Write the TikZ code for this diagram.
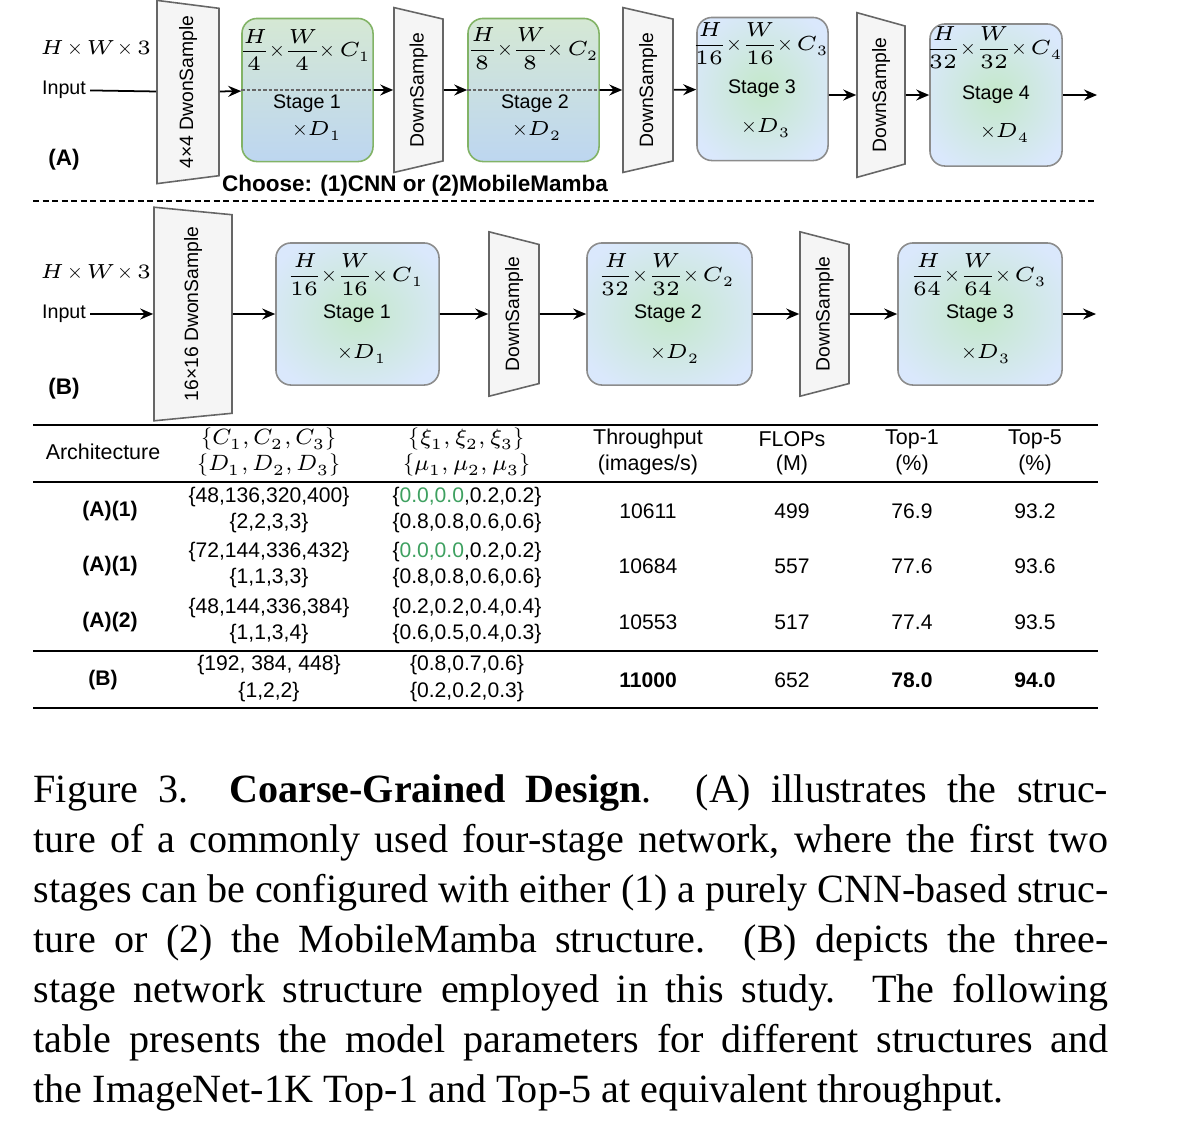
\documentclass[tikz,border=0pt]{standalone}
\usepackage{amsmath}
\usepackage{fontspec}
\usepackage{unicode-math}
\setmathfont{Latin Modern Math}
\setsansfont{Liberation Sans}
\newfontfamily\capfont{Liberation Serif}
\usetikzlibrary{arrows.meta, shapes.geometric}

\definecolor{dsfill}{RGB}{245,245,245}
\definecolor{dsline}{RGB}{102,102,102}
\definecolor{cnnline}{RGB}{130,179,102}
\definecolor{cnntop}{RGB}{213,232,212}
\definecolor{cnnbot}{RGB}{189,214,240}
\definecolor{glowin}{RGB}{196,232,202}
\definecolor{glowout}{RGB}{218,232,252}
\definecolor{stline}{RGB}{140,140,140}
\definecolor{zgreen}{RGB}{62,160,96}

\pgfdeclareradialshading{stageglow}{\pgfpoint{0bp}{0bp}}{color(0bp)=(glowin); color(30bp)=(glowout); color(50bp)=(glowout)}

\newcommand{\dgsize}{\fontsize{5.6}{6.7}\selectfont}
\newcommand{\dgmath}{\fontsize{5.8}{7}\selectfont\setlength{\nulldelimiterspace}{0pt}\medmuskip=3mu\relax}
\newcommand{\tbsize}{\fontsize{6}{7.2}\selectfont}

\begin{document}
\begin{tikzpicture}[
    x=0.01cm, y=-0.01cm,
    lbl/.style={font=\sffamily\dgsize, inner sep=1pt},
    lblm/.style={font=\dgmath, inner sep=1pt},
    tag/.style={font=\sffamily\bfseries\fontsize{6.4}{7.6}\selectfont, inner sep=1pt},
    dsample/.style={trapezium, trapezium stretches=true, shape border rotate=180, rotate=90,
        draw=dsline, fill=dsfill, line width=0.45pt, inner sep=0.5pt,
        font=\sffamily\fontsize{5.5}{6.6}\selectfont},
    cnnstage/.style={rectangle, rounded corners=0.15cm, draw=cnnline, line width=0.45pt,
        top color=cnntop, bottom color=cnnbot},
    stage/.style={rectangle, rounded corners=0.15cm, draw=stline, line width=0.45pt,
        shade, shading=stageglow},
    arr/.style={-{Stealth[length=1.3mm, width=1.1mm, inset=0.45mm]}, line width=0.5pt},
    midline/.style={dsline, dash pattern=on 0.035cm off 0.02cm, line width=0.4pt},
    sepline/.style={dash pattern=on 0.06cm off 0.035cm, line width=0.5pt},
    tabrule/.style={line width=0.6pt},
    th/.style={font=\sffamily\fontsize{6.1}{7.3}\selectfont, inner sep=1pt},
    thm/.style={font=\fontsize{6.3}{7.6}\selectfont, inner sep=1pt},
    td/.style={font=\sffamily\tbsize, inner sep=1pt},
    tdb/.style={font=\sffamily\bfseries\tbsize, inner sep=1pt},
]
\useasboundingbox (0,0) rectangle (1198,1130);

% === (A): four-stage network ===
\node[lblm] (dimA) at (96,48) {$H\times W\times 3$};
\node[lbl] (inA) at (64,90) {Input};
\node[tag] (tagA) at (64,160) {(A)};
\node[dsample, minimum width=1.84cm, minimum height=0.62cm, trapezium angle=71] (ds1) at (188,92) {4×4 DwonSample};
% stage 1
\node[cnnstage, minimum width=1.31cm, minimum height=1.43cm] (s1) at (307.5,90) {};
\draw[midline] (s1.west) -- (s1.east);
\node[lblm] (s1dim) at (307,50) {$\dfrac{H}{4}\times\dfrac{W}{4}\times C_1$};
\node[lbl] (s1name) at (307,104) {Stage 1};
\node[lblm] (s1rep) at (317,131) {$\times D_1$};
\node[dsample, minimum width=1.65cm, minimum height=0.49cm, trapezium angle=66] (ds2) at (418.5,90) {DownSample};
% stage 2
\node[cnnstage, minimum width=1.31cm, minimum height=1.43cm] (s2) at (533.5,90) {};
\draw[midline] (s2.west) -- (s2.east);
\node[lblm] (s2dim) at (535,49) {$\dfrac{H}{8}\times\dfrac{W}{8}\times C_2$};
\node[lbl] (s2name) at (535,104) {Stage 2};
\node[lblm] (s2rep) at (537,131) {$\times D_2$};
\node[dsample, minimum width=1.65cm, minimum height=0.50cm, trapezium angle=66] (ds3) at (648,90) {DownSample};
% stage 3
\node[stage, minimum width=1.31cm, minimum height=1.43cm] (s3) at (762.5,89) {};
\node[lblm] (s3dim) at (762,44) {$\dfrac{H}{16}\times\dfrac{W}{16}\times C_3$};
\node[lbl] (s3name) at (762,89) {Stage 3};
\node[lblm] (s3rep) at (766,128) {$\times D_3$};
\node[dsample, minimum width=1.65cm, minimum height=0.48cm, trapezium angle=62] (ds4) at (881,95) {DownSample};
% stage 4
\node[stage, minimum width=1.32cm, minimum height=1.42cm] (s4) at (996,95) {};
\node[lblm] (s4dim) at (996,48) {$\dfrac{H}{32}\times\dfrac{W}{32}\times C_4$};
\node[lbl] (s4name) at (996,95) {Stage 4};
\node[lblm] (s4rep) at (1005,133) {$\times D_4$};
\coordinate (outA) at (1097,95);
% connectors
\draw[line width=0.5pt] (inA) -- (ds1);
\draw[arr] (ds1) -- (s1);
\draw[arr] (s1) -- (ds2);
\draw[arr] (ds2) -- (s2);
\draw[arr] (s2) -- (ds3);
\draw[arr] (ds3) -- (s3);
\draw[arr] (s3.east |- ds4) -- (ds4);
\draw[arr] (ds4) -- (s4);
\draw[arr] (s4) -- (outA);
\node[tag] (choose) at (415,186) {Choose: (1)CNN or (2)MobileMamba};

% separator
\coordinate (sepL) at (33,201);
\coordinate (sepR) at (1097,201);
\draw[sepline] (sepL) -- (sepR);

% === (B): three-stage network ===
\node[lblm] (dimB) at (96,272) {$H\times W\times 3$};
\node[lbl] (inB) at (64,314) {Input};
\node[tag] (tagB) at (64,389) {(B)};
\node[dsample, minimum width=2.14cm, minimum height=0.78cm, trapezium angle=72.6] (dsb1) at (193,314) {16×16 DwonSample};
\node[stage, minimum width=1.63cm, minimum height=1.42cm] (sb1) at (357.5,314) {};
\node[lblm] (sb1dim) at (357,275) {$\dfrac{H}{16}\times\dfrac{W}{16}\times C_1$};
\node[lbl] (sb1name) at (357,314) {Stage 1};
\node[lblm] (sb1rep) at (362,354) {$\times D_1$};
\node[dsample, minimum width=1.65cm, minimum height=0.50cm, trapezium angle=63.4] (dsb2) at (514,314) {DownSample};
\node[stage, minimum width=1.65cm, minimum height=1.42cm] (sb2) at (669.5,314) {};
\node[lblm] (sb2dim) at (668,275) {$\dfrac{H}{32}\times\dfrac{W}{32}\times C_2$};
\node[lbl] (sb2name) at (668,314) {Stage 2};
\node[lblm] (sb2rep) at (675,354) {$\times D_2$};
\node[dsample, minimum width=1.65cm, minimum height=0.49cm, trapezium angle=63.4] (dsb3) at (824.5,314) {DownSample};
\node[stage, minimum width=1.64cm, minimum height=1.42cm] (sb3) at (980,314) {};
\node[lblm] (sb3dim) at (980,275) {$\dfrac{H}{64}\times\dfrac{W}{64}\times C_3$};
\node[lbl] (sb3name) at (980,314) {Stage 3};
\node[lblm] (sb3rep) at (986,354) {$\times D_3$};
\coordinate (outB) at (1096,314);
% connectors
\draw[arr] (inB) -- (dsb1);
\draw[arr] (dsb1) -- (sb1);
\draw[arr] (sb1) -- (dsb2);
\draw[arr] (dsb2) -- (sb2);
\draw[arr] (sb2) -- (dsb3);
\draw[arr] (dsb3) -- (sb3);
\draw[arr] (sb3) -- (outB);

% === Table ===
\draw[tabrule] (33,425) -- (1098,425);
\draw[tabrule] (33,482) -- (1098,482);
\draw[tabrule] (33,651) -- (1098,651);
\draw[tabrule] (33,708) -- (1098,708);
\node[th] (hArch) at (103,452) {Architecture};
\node[thm] (hC) at (269,439) {$\{C_1,C_2,C_3\}$};
\node[thm] (hD) at (269,465) {$\{D_1,D_2,D_3\}$};
\node[thm] (hXi) at (467,439) {$\{\xi_1,\xi_2,\xi_3\}$};
\node[thm] (hMu) at (467,465) {$\{\mu_1,\mu_2,\mu_3\}$};
\node[th] (hTp) at (648,439) {Throughput};
\node[th] (hTpU) at (648,465) {(images/s)};
\node[th] (hFl) at (792,439) {FLOPs};
\node[th] (hFlU) at (792,465) {(M)};
\node[th] (hTa) at (912,439) {Top-1};
\node[th] (hTaU) at (912,465) {(\%)};
\node[th] (hTb) at (1035,439) {Top-5};
\node[th] (hTbU) at (1035,465) {(\%)};
\foreach \i/\y/\arch/\cc/\dd/\xx/\mm/\tp/\fl/\ta/\tb in {
    1/511/{(A)(1)}/{48,136,320,400}/{2,2,3,3}/{\textcolor{zgreen}{0.0,0.0},0.2,0.2}/{0.8,0.8,0.6,0.6}/10611/499/76.9/93.2,
    2/566/{(A)(1)}/{72,144,336,432}/{1,1,3,3}/{\textcolor{zgreen}{0.0,0.0},0.2,0.2}/{0.8,0.8,0.6,0.6}/10684/557/77.6/93.6,
    3/622/{(A)(2)}/{48,144,336,384}/{1,1,3,4}/{0.2,0.2,0.4,0.4}/{0.6,0.5,0.4,0.3}/10553/517/77.4/93.5} {
    \node[tdb] (arch\i) at (110,\y) {\arch};
    \node[td] (cc\i) at (269,\y-14) {\{\cc\}};
    \node[td] (dd\i) at (269,\y+12) {\{\dd\}};
    \node[td] (xx\i) at (467,\y-14) {\{\xx\}};
    \node[td] (mm\i) at (467,\y+12) {\{\mm\}};
    \node[td] (tp\i) at (648,\y) {\tp};
    \node[td] (fl\i) at (792,\y) {\fl};
    \node[td] (ta\i) at (912,\y) {\ta};
    \node[td] (tb\i) at (1035,\y) {\tb};
}
\node[tdb] (archB) at (103,680) {(B)};
\node[td] (ccB) at (269,665) {\{192, 384, 448\}};
\node[td] (ddB) at (269,692) {\{1,2,2\}};
\node[td] (xxB) at (467,665) {\{0.8,0.7,0.6\}};
\node[td] (mmB) at (467,692) {\{0.2,0.2,0.3\}};
\node[tdb] (tpB) at (648,680) {11000};
\node[td] (flB) at (792,680) {652};
\node[tdb] (taB) at (912,680) {78.0};
\node[tdb] (tbB) at (1035,680) {94.0};

% === Caption ===
\node[anchor=north west, inner sep=0pt, text width=10.74cm, align=justify,
      font=\capfont\fontsize{11.4}{14.2}\selectfont] (caption) at (33,774) {%
\tolerance=9999\hyphenpenalty=10000
Figure 3.\ \ \textbf{Coarse-Grained Design}. (A) illustrates the struc-\linebreak
ture of a commonly used four-stage network, where the first two\linebreak
stages can be configured with either (1) a purely CNN-based struc-\linebreak
ture or (2) the MobileMamba structure. (B) depicts the three-\linebreak
stage network structure employed in this study. The following\linebreak
table presents the model parameters for different structures and\linebreak
the ImageNet-1K Top-1 and Top-5 at equivalent throughput.};
\end{tikzpicture}
\end{document}
